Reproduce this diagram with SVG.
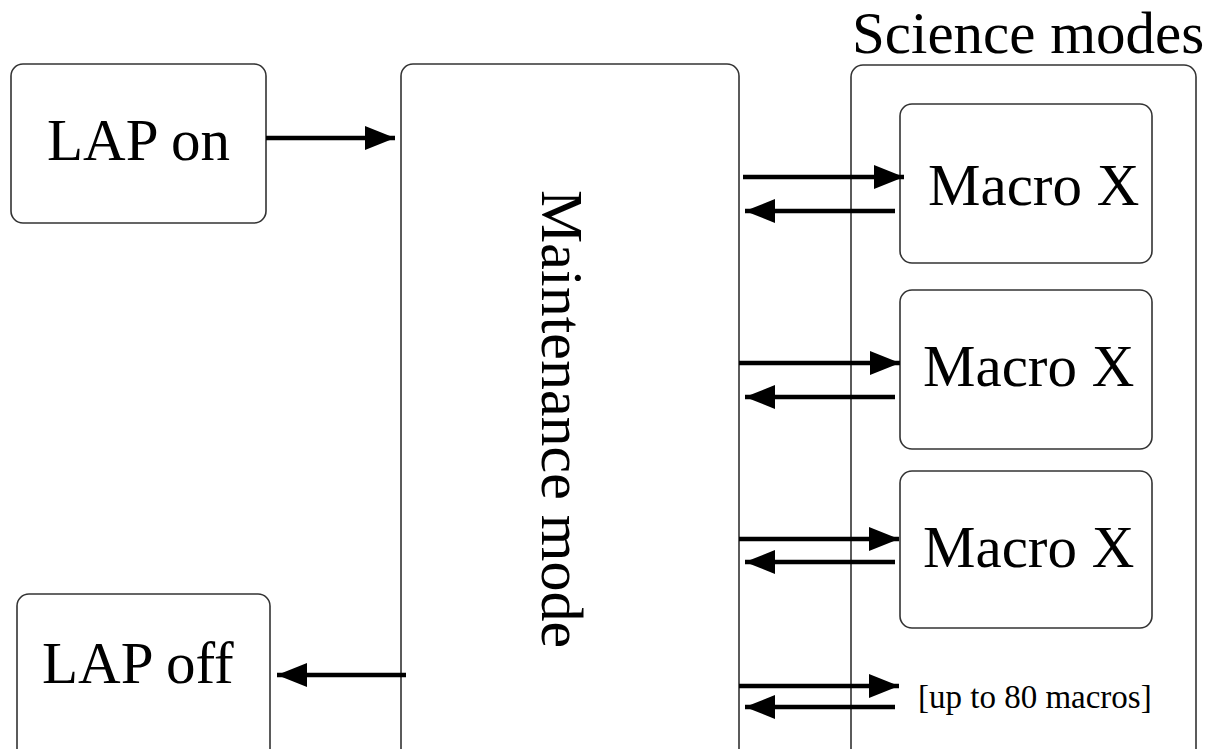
<svg xmlns="http://www.w3.org/2000/svg" width="1228" height="749" viewBox="0 0 1228 749">
<style>
.box{fill:none;stroke:#333;stroke-width:1.6}
.t{font-family:"Liberation Serif",serif;fill:#000}
.c{stroke:#000;stroke-width:4.5;fill:none}
</style>
<defs>
<marker id="ah" viewBox="0 0 30 24" refX="30" refY="12" markerWidth="30" markerHeight="24" markerUnits="userSpaceOnUse" orient="auto">
<path d="M0,0 L30,12 L0,24 Z" fill="#000"/>
</marker>
</defs>
<rect width="1228" height="749" fill="#fff"/>
<g id="lap-on">
<rect class="box" x="11" y="64" width="255" height="159" rx="12"/>
<text class="t" x="47" y="160" font-size="59">LAP on</text>
</g>
<g id="lap-off">
<rect class="box" x="17" y="594" width="253" height="170" rx="12"/>
<text class="t" x="42" y="683" font-size="59">LAP off</text>
</g>
<g id="maintenance">
<rect class="box" x="401" y="64" width="338" height="700" rx="12"/>
<text class="t" transform="translate(542,190) rotate(90)" font-size="60">Maintenance mode</text>
</g>
<g id="science">
<rect class="box" x="851" y="65" width="345" height="700" rx="12"/>
<text class="t" x="852" y="53" font-size="59">Science modes</text>
</g>
<g id="macro1">
<rect class="box" x="900" y="104" width="252" height="159" rx="12"/>
<text class="t" x="928" y="205" font-size="59">Macro X</text>
</g>
<g id="macro2">
<rect class="box" x="900" y="290" width="252" height="159" rx="12"/>
<text class="t" x="923" y="386" font-size="59">Macro X</text>
</g>
<g id="macro3">
<rect class="box" x="900" y="471" width="252" height="157" rx="12"/>
<text class="t" x="923" y="567" font-size="59">Macro X</text>
</g>
<g id="more">
<text class="t" x="918" y="708" font-size="33">[up to 80 macros]</text>
</g>
<g id="connectors">
<line class="c" x1="266" y1="138" x2="395" y2="138" marker-end="url(#ah)"/>
<line class="c" x1="406" y1="675" x2="277" y2="675" marker-end="url(#ah)"/>
<line class="c" x1="743" y1="177" x2="904" y2="177" marker-end="url(#ah)"/>
<line class="c" x1="895" y1="211" x2="745" y2="211" marker-end="url(#ah)"/>
<line class="c" x1="739" y1="363" x2="900" y2="363" marker-end="url(#ah)"/>
<line class="c" x1="895" y1="397" x2="745" y2="397" marker-end="url(#ah)"/>
<line class="c" x1="739" y1="539" x2="899" y2="539" marker-end="url(#ah)"/>
<line class="c" x1="895" y1="562" x2="745" y2="562" marker-end="url(#ah)"/>
<line class="c" x1="739" y1="686" x2="899" y2="686" marker-end="url(#ah)"/>
<line class="c" x1="895" y1="707" x2="745" y2="707" marker-end="url(#ah)"/>
</g>
</svg>
